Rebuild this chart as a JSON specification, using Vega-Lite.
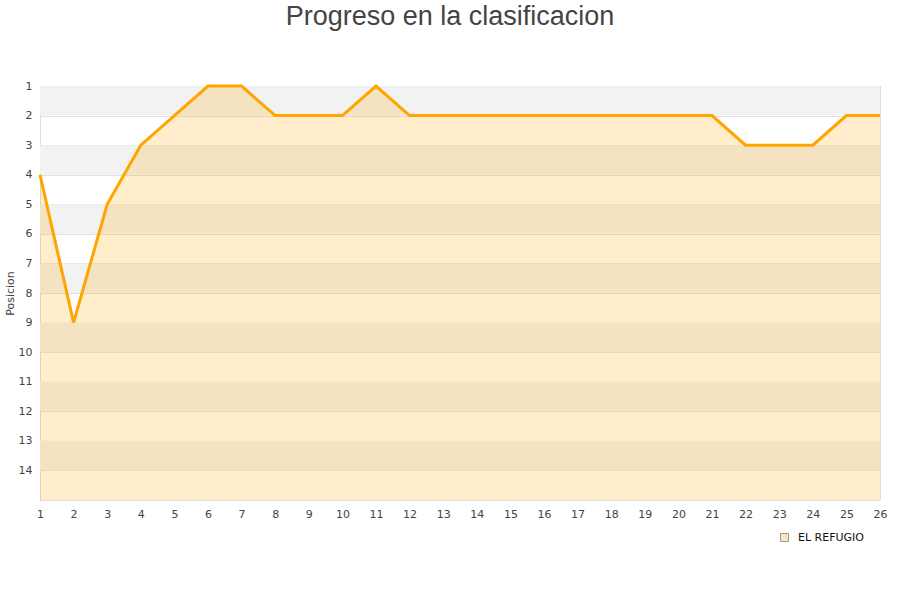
{
  "$schema": "https://vega.github.io/schema/vega-lite/v6.json",
  "width": 840,
  "height": 414,
  "autosize": {"type": "none"},
  "padding": {"left": 40, "top": 86, "right": 20, "bottom": 100},
  "background": "white",
  "title": {"text": "Progreso en la clasificacion", "fontSize": 27, "font": "Liberation Sans", "fontWeight": "normal", "color": "#444444", "offset": 49, "anchor": "middle", "dx": -10},
  "config": {
    "view": {"stroke": "#dddddd", "strokeWidth": 1},
    "axis": {"labelFont": "DejaVu Sans", "labelFontSize": 11, "labelColor": "#444444", "titleFont": "DejaVu Sans", "titleFontWeight": "normal", "titleColor": "#444444", "labelOverlap": false}
  },
  "datasets": {
    "serie": [
      {"jornada": 1, "pos": 4, "equipo": "EL REFUGIO"},
      {"jornada": 2, "pos": 9, "equipo": "EL REFUGIO"},
      {"jornada": 3, "pos": 5, "equipo": "EL REFUGIO"},
      {"jornada": 4, "pos": 3, "equipo": "EL REFUGIO"},
      {"jornada": 5, "pos": 2, "equipo": "EL REFUGIO"},
      {"jornada": 6, "pos": 1, "equipo": "EL REFUGIO"},
      {"jornada": 7, "pos": 1, "equipo": "EL REFUGIO"},
      {"jornada": 8, "pos": 2, "equipo": "EL REFUGIO"},
      {"jornada": 9, "pos": 2, "equipo": "EL REFUGIO"},
      {"jornada": 10, "pos": 2, "equipo": "EL REFUGIO"},
      {"jornada": 11, "pos": 1, "equipo": "EL REFUGIO"},
      {"jornada": 12, "pos": 2, "equipo": "EL REFUGIO"},
      {"jornada": 13, "pos": 2, "equipo": "EL REFUGIO"},
      {"jornada": 14, "pos": 2, "equipo": "EL REFUGIO"},
      {"jornada": 15, "pos": 2, "equipo": "EL REFUGIO"},
      {"jornada": 16, "pos": 2, "equipo": "EL REFUGIO"},
      {"jornada": 17, "pos": 2, "equipo": "EL REFUGIO"},
      {"jornada": 18, "pos": 2, "equipo": "EL REFUGIO"},
      {"jornada": 19, "pos": 2, "equipo": "EL REFUGIO"},
      {"jornada": 20, "pos": 2, "equipo": "EL REFUGIO"},
      {"jornada": 21, "pos": 2, "equipo": "EL REFUGIO"},
      {"jornada": 22, "pos": 3, "equipo": "EL REFUGIO"},
      {"jornada": 23, "pos": 3, "equipo": "EL REFUGIO"},
      {"jornada": 24, "pos": 3, "equipo": "EL REFUGIO"},
      {"jornada": 25, "pos": 2, "equipo": "EL REFUGIO"},
      {"jornada": 26, "pos": 2, "equipo": "EL REFUGIO"}
    ],
    "bandas": [
      {"desde": 1, "hasta": 2},
      {"desde": 3, "hasta": 4},
      {"desde": 5, "hasta": 6},
      {"desde": 7, "hasta": 8},
      {"desde": 9, "hasta": 10},
      {"desde": 11, "hasta": 12},
      {"desde": 13, "hasta": 14}
    ]
  },
  "layer": [
    {
      "data": {"name": "bandas"},
      "mark": {"type": "rect", "fill": "#f2f2f2"},
      "encoding": {
        "y": {"field": "desde", "type": "quantitative", "scale": {"domain": [1, 15], "reverse": true, "nice": false, "zero": false},
          "axis": {"values": [1,2,3,4,5,6,7,8,9,10,11,12,13,14], "tickCount": 40, "format": "d", "labelFlush": false, "labelOverlap": false, "title": "Posicion", "titleFontSize": 11, "titlePadding": 3, "grid": true, "gridColor": "#e0e0e0", "domain": false, "ticks": false, "labelPadding": 8}},
        "y2": {"field": "hasta"}
      }
    },
    {
      "data": {"name": "serie"},
      "mark": {"type": "area", "color": "#FFA500", "opacity": 0.2},
      "encoding": {
        "x": {"field": "jornada", "type": "quantitative", "scale": {"domain": [1, 26], "nice": false, "zero": false},
          "axis": {"values": [1,2,3,4,5,6,7,8,9,10,11,12,13,14,15,16,17,18,19,20,21,22,23,24,25,26], "tickCount": 60, "format": "d", "labelFlush": false, "labelOverlap": false, "title": null, "grid": false, "domain": false, "ticks": false, "labelPadding": 8}},
        "y": {"field": "pos", "type": "quantitative"},
        "y2": {"datum": 15}
      }
    },
    {
      "data": {"name": "serie"},
      "mark": {"type": "line", "color": "#FFA500", "strokeWidth": 3},
      "encoding": {
        "x": {"field": "jornada", "type": "quantitative"},
        "y": {"field": "pos", "type": "quantitative"}
      }
    },
    {
      "data": {"name": "serie"},
      "mark": {"type": "point", "shape": "square", "filled": true, "opacity": 0},
      "encoding": {
        "x": {"field": "jornada", "type": "quantitative"},
        "y": {"field": "pos", "type": "quantitative"},
        "color": {"field": "equipo", "type": "nominal", "scale": {"range": ["#fbe4c0"]},
          "legend": {"orient": "none", "legendX": 739, "legendY": 446, "title": null, "symbolType": "square", "symbolSize": 64, "labelFont": "DejaVu Sans", "labelFontSize": 11, "labelColor": "#111111", "labelOffset": 8,
            "symbolOpacity": 1, "symbolStrokeColor": "#999999", "symbolStrokeWidth": 1}}
      }
    }
  ]
}
